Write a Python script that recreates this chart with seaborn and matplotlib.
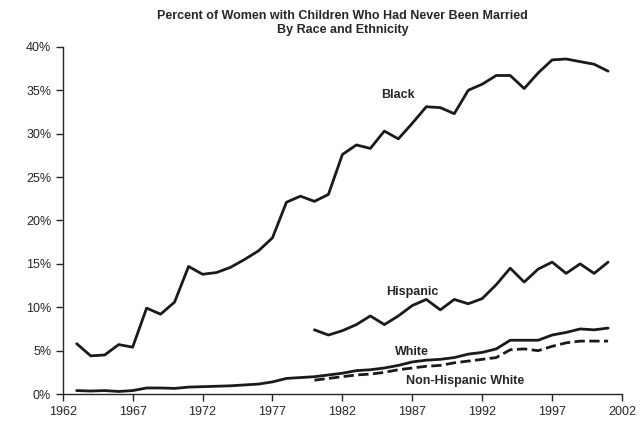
#!/usr/bin/env python3
import pandas as pd
import matplotlib.pyplot as plt
import seaborn as sns
sns.set_theme(
    context='paper',
    style="ticks",
    rc={
        "axes.spines.right": False,
        "axes.spines.top": False
    }
)
plt.rcParams['font.family'] = ['Liberation Sans', 'DejaVu Sans']

years_all = list(range(1963, 2002))
years_late = list(range(1980, 2002))
black = [5.8, 4.4, 4.5, 5.7, 5.4, 9.9, 9.2, 10.6, 14.7, 13.8, 14.0, 14.6, 15.5, 16.5,
         18.0, 22.1, 22.8, 22.2, 23.0, 27.6, 28.7, 28.3, 30.3, 29.4, 31.2, 33.1, 33.0,
         32.3, 35.0, 35.7, 36.7, 36.7, 35.2, 37.0, 38.5, 38.6, 38.3, 38.0, 37.2]
hispanic = [7.4, 6.8, 7.3, 8.0, 9.0, 8.0, 9.0, 10.2, 10.9, 9.7, 10.9, 10.4, 11.0, 12.6,
            14.5, 12.9, 14.4, 15.2, 13.9, 15.0, 13.9, 15.2]
white = [0.4, 0.35, 0.4, 0.3, 0.4, 0.7, 0.7, 0.65, 0.8, 0.85, 0.9, 0.95, 1.05, 1.15,
         1.4, 1.8, 1.9, 2.0, 2.2, 2.4, 2.7, 2.8, 3.0, 3.3, 3.7, 3.9, 4.0, 4.2, 4.6, 4.8,
         5.2, 6.2, 6.2, 6.2, 6.8, 7.1, 7.5, 7.4, 7.6]
nh_white = [1.6, 1.8, 2.0, 2.2, 2.3, 2.5, 2.8, 3.0, 3.2, 3.3, 3.6, 3.8, 4.0, 4.2, 5.1,
            5.2, 5.0, 5.5, 5.9, 6.1, 6.1, 6.1]


def fig_never_married() -> None:

    fig, ax = plt.subplots(figsize=(6.4, 4.26))

    for years, vals, dash in [
        (years_all, black, False),
        (years_late, hispanic, False),
        (years_all, white, False),
        (years_late, nh_white, True),
    ]:
        sns.lineplot(
            x=years, y=vals, ax=ax, color='k', lw=2,
            linestyle='--' if dash else '-',
            dashes=(6, 3) if dash else (None, None)
        )

    for txt, x, y in [('Black', 1986, 34.5), ('Hispanic', 1987, 11.8),
                      ('White', 1987, 4.8), ('Non-Hispanic White', 1990.8, 1.5)]:
        ax.text(x, y, txt, ha='center', va='center', fontsize=9, fontweight='bold')

    ax.set_xlim(1962, 2002)
    ax.set_ylim(0, 40)
    ax.set_xticks(range(1962, 2003, 5))
    ax.set_yticks(range(0, 41, 5))
    ax.set_yticklabels([f'{v}%' for v in range(0, 41, 5)])
    ax.tick_params(labelsize=9, direction='out')
    ax.set_title('Percent of Women with Children Who Had Never Been Married\nBy Race and Ethnicity',
                 fontsize=9, fontweight='bold', pad=10)

    fig.subplots_adjust(left=0.098, right=0.972, top=0.89, bottom=0.075)
    fig.savefig('out.png', dpi=100)

    return None


if __name__ == '__main__':
    fig_never_married()
